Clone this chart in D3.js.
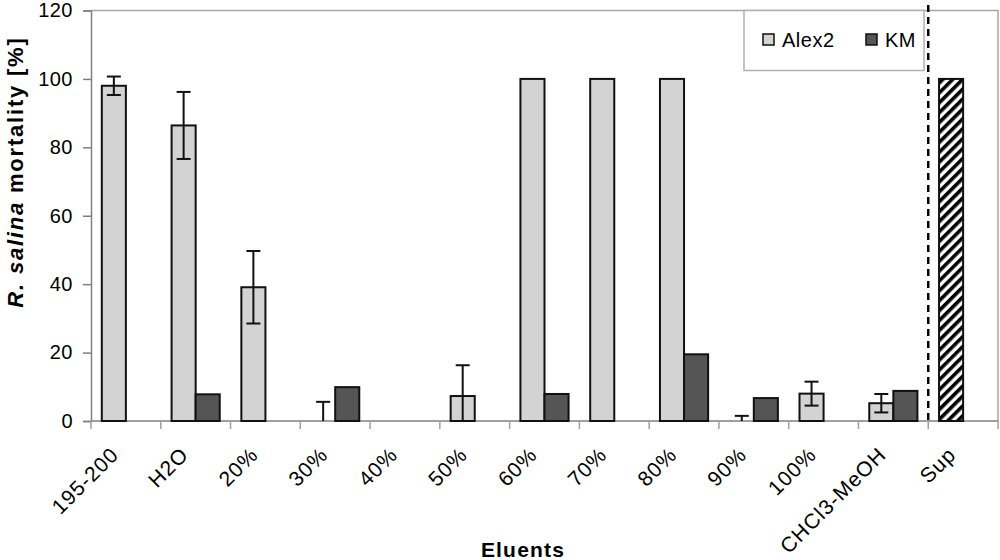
<!DOCTYPE html>
<html>
<head>
<meta charset="utf-8">
<script src="https://cdn.jsdelivr.net/npm/d3@7"></script>
<style>
  body { margin:0; background:#fff; }
  text { font-family: "Liberation Sans", Arial, sans-serif; fill:#000; }
</style>
</head>
<body>
<div class="canvas"></div>
<script>
//data
var categories = ['195-200','H2O','20%','30%','40%','50%','60%','70%','80%','90%','100%','CHCl3-MeOH','Sup'];
var series = ['Alex2','KM'];
var alex2 = [98, 86.4, 39.1, 0, null, 7.3, 100, 100, 100, 0, 8, 5.2, null];
var alex2Err = [2.7, 9.8, 10.6, 5.6, null, 9, null, null, null, 1.5, 3.5, 2.7, null];
var km = [null, 7.8, null, 9.9, null, null, 7.9, null, 19.5, 6.7, null, 8.8, null];
var supValue = 100;
var yTicks = [0,20,40,60,80,100,120];

var W = 1000, H = 560;
var pLeft = 91, pRight = 998, pTop = 10.5, pBottom = 421;

var svg = d3.select('.canvas')
	.append('svg')
	.attr('width',W)
	.attr('height',H);

//hatch pattern for the Sup bar
var pat = svg.append('defs').append('pattern')
	.attr('id','hatch')
	.attr('patternUnits','userSpaceOnUse')
	.attr('width',7).attr('height',7)
	.attr('patternTransform','rotate(45)');
pat.append('rect').attr('width',7).attr('height',7).attr('fill','#fff');
pat.append('rect').attr('width',3.6).attr('height',7).attr('fill','#000');

var x = d3.scaleBand().domain(categories).range([pLeft,pRight]).padding(0);
var bw = x.bandwidth();
var xs = d3.scaleBand().domain(series).range([bw*0.155, bw*0.845]);
var y = d3.scaleLinear().domain([0,120]).range([pBottom,pTop]);

//plot frame (top + right)
svg.append('path')
	.attr('d','M'+pLeft+','+pTop+'H'+pRight+'V'+pBottom)
	.attr('fill','none').attr('stroke','#a6a6a6').attr('stroke-width',1.5);

//y axis
var yAxis = svg.append('g')
	.attr('transform','translate('+pLeft+',0)')
	.call(d3.axisLeft(y).tickValues(yTicks).tickSize(8).tickPadding(10));
yAxis.select('.domain').attr('stroke','#808080').attr('stroke-width',1.5);
yAxis.selectAll('.tick line').attr('stroke','#808080').attr('stroke-width',1.5);
yAxis.selectAll('.tick text')
	.style('font-size','20px').style('letter-spacing','0.5px')
	.style('font-family','"Liberation Sans", Arial, sans-serif').attr('fill','#000');

//x axis, ticks sit on category boundaries
var xAxis = svg.append('g')
	.attr('transform','translate(0,'+pBottom+')');
xAxis.append('line')
	.attr('x1',pLeft).attr('x2',pRight).attr('y1',0).attr('y2',0)
	.attr('stroke','#808080').attr('stroke-width',1.5);
xAxis.selectAll('.tk')
	.data(categories.concat(['_end']))
	.enter().append('line')
	.attr('x1',function(d,i){ return pLeft + i*bw; })
	.attr('x2',function(d,i){ return pLeft + i*bw; })
	.attr('y1',0).attr('y2',8)
	.attr('stroke','#a0a0a0').attr('stroke-width',1.5);
xAxis.selectAll('.lbl')
	.data(categories)
	.enter().append('text')
	.attr('transform',function(d){ return 'translate('+(x(d)+bw/2-6)+',35) rotate(-45)'; })
	.attr('text-anchor','end')
	.style('font-size','21px').style('letter-spacing','1px')
	.text(function(d){ return d; });

//bars
categories.forEach(function(c, i){
	if (alex2[i] != null && alex2[i] > 0) {
		svg.append('rect')
			.attr('x', x(c)+xs('Alex2'))
			.attr('y', y(alex2[i]))
			.attr('width', xs.bandwidth())
			.attr('height', y(0)-y(alex2[i]))
			.attr('fill','#d3d3d3').attr('stroke','#111').attr('stroke-width',2);
	}
	if (km[i] != null && km[i] > 0) {
		svg.append('rect')
			.attr('x', x(c)+xs('KM'))
			.attr('y', y(km[i]))
			.attr('width', xs.bandwidth())
			.attr('height', y(0)-y(km[i]))
			.attr('fill','#555555').attr('stroke','#111').attr('stroke-width',2);
	}
	//error bars, clipped at zero like the original
	if (alex2Err[i] != null) {
		var cx = x(c)+xs('Alex2')+xs.bandwidth()/2;
		var hi = alex2[i]+alex2Err[i], lo = Math.max(0, alex2[i]-alex2Err[i]);
		svg.append('line')
			.attr('x1',cx).attr('x2',cx).attr('y1',y(hi)).attr('y2',y(lo))
			.attr('stroke','#111').attr('stroke-width',2);
		svg.append('line')
			.attr('x1',cx-7).attr('x2',cx+7).attr('y1',y(hi)).attr('y2',y(hi))
			.attr('stroke','#111').attr('stroke-width',2);
		if (alex2[i]-alex2Err[i] >= 0) {
			svg.append('line')
				.attr('x1',cx-7).attr('x2',cx+7).attr('y1',y(lo)).attr('y2',y(lo))
				.attr('stroke','#111').attr('stroke-width',2);
		}
	}
});

//Sup bar, hatched
svg.append('rect')
	.attr('x', x('Sup')+xs('Alex2'))
	.attr('y', y(supValue))
	.attr('width', xs.bandwidth())
	.attr('height', y(0)-y(supValue))
	.attr('fill','url(#hatch)').attr('stroke','#111').attr('stroke-width',2);

//dashed separator before Sup
svg.append('line')
	.attr('x1',x('Sup')).attr('x2',x('Sup'))
	.attr('y1',5).attr('y2',pBottom)
	.attr('stroke','#000').attr('stroke-width',2.5)
	.attr('stroke-dasharray','7,5');

//legend
var lg = svg.append('g');
lg.append('rect')
	.attr('x',744).attr('y',pTop).attr('width',180).attr('height',60)
	.attr('fill','#fff').attr('stroke','#b0b0b0').attr('stroke-width',1.5);
var legFill = {Alex2:'#d3d3d3', KM:'#555555'};
var legX = {Alex2:763, KM:866};
series.forEach(function(s){
	lg.append('rect')
		.attr('x',legX[s]).attr('y',34).attr('width',11).attr('height',11)
		.attr('fill',legFill[s]).attr('stroke','#111').attr('stroke-width',1.5);
	lg.append('text')
		.attr('x',legX[s]+19).attr('y',46.5)
		.style('font-size','20px').style('letter-spacing','0.5px')
		.text(s);
});

//axis titles
var yt = svg.append('text')
	.attr('transform','translate(23,172) rotate(-90)')
	.attr('text-anchor','middle')
	.style('font-size','22px').style('font-weight','bold').style('letter-spacing','1.8px');
yt.append('tspan').style('font-style','italic').text('R. salina');
yt.append('tspan').text(' mortality [%]');

svg.append('text')
	.attr('x',523).attr('y',557)
	.attr('text-anchor','middle')
	.style('font-size','21px').style('font-weight','bold').style('letter-spacing','1.2px')
	.text('Eluents');
</script>
</body>
</html>
